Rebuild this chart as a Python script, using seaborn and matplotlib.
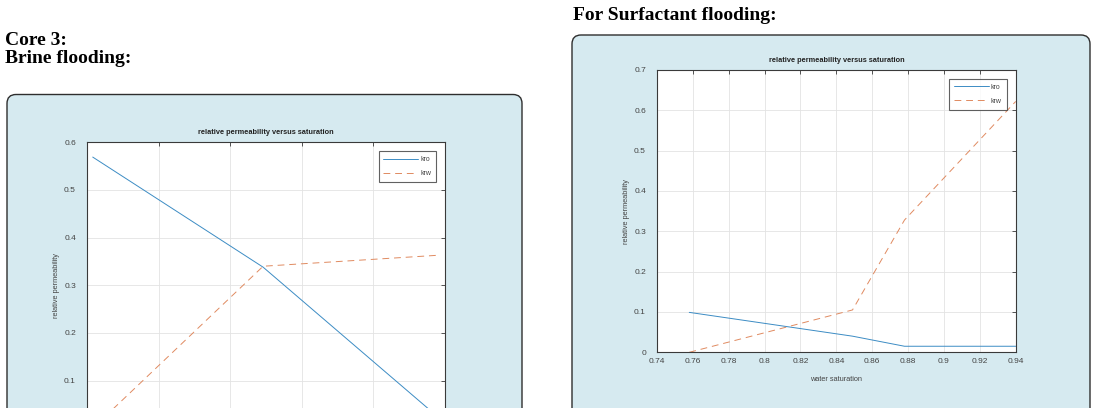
import pandas as pd
import matplotlib
matplotlib.use('Agg')
import matplotlib.pyplot as plt
import seaborn as sns
from matplotlib.patches import FancyBboxPatch
from matplotlib.lines import Line2D

# Core 3, brine flooding (x axis labels are cut off in the source page)
brine_sw = [0.504, 0.623, 0.745]
brine_kro = [0.569, 0.338, 0.024]
brine_krw = [0.0, 0.340, 0.363]

# Surfactant flooding
surf_sw = [0.758, 0.849, 0.878, 0.940]
surf_kro = [0.099, 0.040, 0.015, 0.015]
surf_krw = [0.0, 0.105, 0.328, 0.622]
surf_xticks = [0.74, 0.76, 0.78, 0.80, 0.82, 0.84, 0.86, 0.88, 0.90, 0.92, 0.94]
surf_xlabels = ['0.74', '0.76', '0.78', '0.8', '0.82', '0.84', '0.86', '0.88', '0.9', '0.92', '0.94']

W, H = 1094, 408

sns.set_theme(style='whitegrid')
plt.rcParams['font.family'] = ['Liberation Sans', 'DejaVu Sans']

fig = plt.figure(figsize=(W / 100, H / 100), dpi=100)
fig.patch.set_facecolor('white')

# page overlay in pixel coordinates
page = fig.add_axes([0, 0, 1, 1], zorder=0)
page.set_xlim(0, W)
page.set_ylim(H, 0)
page.axis('off')

for x0, y0, x1 in [(7, 94.5, 522), (572, 35, 1090)]:
    page.add_patch(FancyBboxPatch((x0, y0), x1 - x0, 500, boxstyle='round,pad=0,rounding_size=9',
                                  facecolor='#d6eaf0', edgecolor='#2e2e2e', linewidth=1.0))

head = dict(family='Liberation Serif', fontweight='bold', fontsize=14, color='black', va='baseline')
page.text(5, 45, 'Core 3:', **head)
page.text(5, 63, 'Brine flooding:', **head)
page.text(573, 20, 'For Surfactant flooding:', **head)

palette = {'kro': '#3c8cc4', 'krw': '#e08a60'}
dashes = {'kro': '', 'krw': (7, 5)}


def panel(rect_px, sw, kro, krw, ylim, yticks, ylabels, xlim, xticks, xlabels, show_xlabel):
    left, top, right, bottom = rect_px
    ax = fig.add_axes([left / W, (H - bottom) / H, (right - left) / W, (bottom - top) / H], zorder=2)
    df = pd.DataFrame({
        'sw': list(sw) + list(sw),
        'k': list(kro) + list(krw),
        'curve': ['kro'] * len(sw) + ['krw'] * len(sw),
    })
    sns.lineplot(data=df, x='sw', y='k', hue='curve', style='curve', palette=palette,
                 dashes=dashes, linewidth=0.7, ax=ax, sort=False, legend=False)
    ax.set_facecolor('white')
    ax.set_xlim(*xlim)
    ax.set_ylim(*ylim)
    ax.set_yticks(yticks)
    ax.set_yticklabels(ylabels)
    ax.set_xticks(xticks)
    ax.set_xticklabels(xlabels)
    ax.grid(True, color='#e3e3e3', linewidth=0.6)
    for s in ax.spines.values():
        s.set_color('#3a3a3a')
        s.set_linewidth(0.8)
    ax.tick_params(direction='in', length=3, width=0.6, color='#3a3a3a', labelsize=6,
                   labelcolor='#444444', top=True, right=True)
    ax.tick_params(axis='y', pad=8)
    ax.tick_params(axis='x', pad=4)
    ax.set_title('relative permeability versus saturation', fontsize=5.3, fontweight='bold',
                 color='#222222', pad=6)
    ax.set_ylabel('relative permeability', fontsize=5.3, color='#444444', labelpad=3)
    if show_xlabel:
        ax.set_xlabel('water saturation', fontsize=5.3, color='#444444', labelpad=8)
    else:
        ax.set_xlabel('')
    w_ax = right - left
    h_ax = bottom - top
    handles = [Line2D([], [], color=palette['kro'], linewidth=0.7),
               Line2D([], [], color=palette['krw'], linewidth=0.7, dashes=dashes['krw'])]
    leg = ax.legend(handles, ['kro', 'krw'], loc='upper right',
                    bbox_to_anchor=(1 - 9 / w_ax, 1 - 9 / h_ax), borderaxespad=0,
                    fontsize=5, handlelength=5.0, handletextpad=0.3, labelspacing=1.0,
                    frameon=True, fancybox=False, borderpad=0.7)
    leg.get_frame().set_edgecolor('#3a3a3a')
    leg.get_frame().set_linewidth(0.8)
    for t in leg.get_texts():
        t.set_color('#444444')
    return ax


brine_yticks = [0, 0.1, 0.2, 0.3, 0.4, 0.5, 0.6]
brine_xticks = [0.5, 0.55, 0.6, 0.65, 0.7, 0.75]
panel((87, 142.3, 445, 428.3), brine_sw, brine_kro, brine_krw, (0, 0.6),
      brine_yticks, ['', '0.1', '0.2', '0.3', '0.4', '0.5', '0.6'], (0.5, 0.75),
      brine_xticks, [''] * len(brine_xticks), False)

surf_yticks = [0, 0.1, 0.2, 0.3, 0.4, 0.5, 0.6, 0.7]
panel((657, 70, 1015.7, 352.3), surf_sw, surf_kro, surf_krw, (0, 0.7),
      surf_yticks, ['0', '0.1', '0.2', '0.3', '0.4', '0.5', '0.6', '0.7'], (0.74, 0.94),
      surf_xticks, surf_xlabels, True)

fig.savefig('out.png', dpi=100, facecolor='white')
